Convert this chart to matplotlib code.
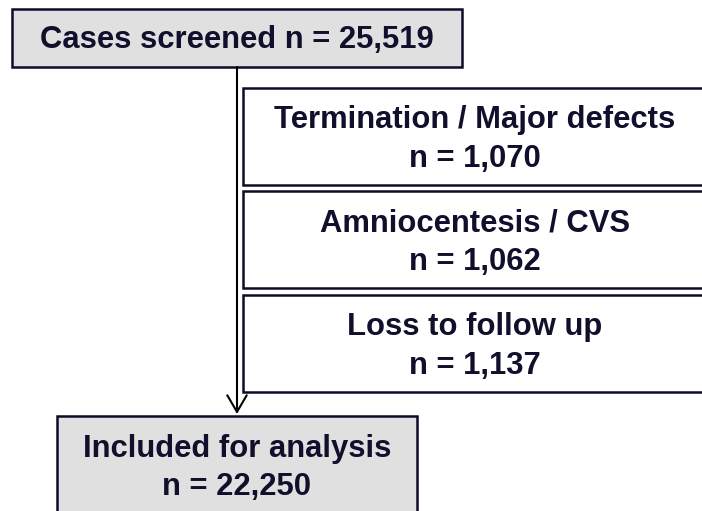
import matplotlib.pyplot as plt
from matplotlib.patches import Rectangle

# Flowchart content
top_label = "Cases screened n = 25,519"
excluded_labels = ["Termination / Major defects", "Amniocentesis / CVS", "Loss to follow up"]
excluded_counts = ["1,070", "1,062", "1,137"]
final_label = "Included for analysis"
final_count = "22,250"

edge = "#0c0c2a"
grey = "#e0e0e0"

fig = plt.figure(figsize=(7.02, 5.11), dpi=100)
ax = fig.add_axes([0, 0, 1, 1])
ax.set_xlim(0, 702)
ax.set_ylim(511, 0)
ax.axis("off")

font = dict(family="Liberation Sans", fontweight="bold", fontsize=22.3, color="#10102c",
            ha="center", va="baseline")

# Top box
ax.add_patch(Rectangle((12, 9), 450, 58, facecolor=grey, edgecolor=edge, lw=1.8))
ax.text(237, 48, top_label, **font)

# Main flow line with open arrow head
ax.annotate("", xy=(237, 414), xytext=(237, 67),
            arrowprops=dict(arrowstyle="->,head_length=1.2,head_width=0.7",
                            color="black", lw=1.5, shrinkA=0, shrinkB=0))

# Exclusion boxes
box_tops = [88, 191, 295]
for top, label, count in zip(box_tops, excluded_labels, excluded_counts):
    ax.add_patch(Rectangle((243, top), 470, 97, facecolor="white", edgecolor=edge, lw=1.8))
    ax.text(475, top + 40, label, **font)
    ax.text(475, top + 79, "n = " + count, **font)

# Final box
ax.add_patch(Rectangle((57, 416), 360, 110, facecolor=grey, edgecolor=edge, lw=1.8))
ax.text(237, 457, final_label, **font)
ax.text(237, 495, "n = " + final_count, **font)

fig.savefig("out.png", dpi=100)
